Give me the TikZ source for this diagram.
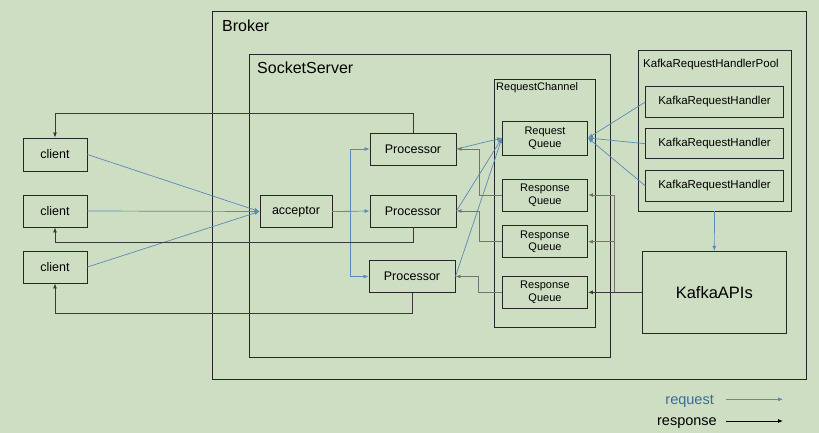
\documentclass[tikz,border=0pt]{standalone}
\usepackage{fontspec}
\setmainfont{Liberation Sans}
\usetikzlibrary{arrows.meta}
\definecolor{bg}{HTML}{CEDEC3}
\definecolor{reqc}{HTML}{5B89BA}
\definecolor{reqtext}{HTML}{3A6A9C}
\definecolor{respc}{HTML}{3A3A3A}
\begin{document}
\begin{tikzpicture}[x=1pt,y=-1pt,
  box/.style={draw=black!85, line width=0.95pt, inner sep=0pt, align=center},
  cont/.style={draw=black!85, line width=0.85pt},
  fs/.style={font=\fontsize{#1}{12.6}\selectfont},
  req/.style={draw=reqc, line width=0.7pt, -{Latex[length=5pt,width=4pt]}},
  resp/.style={draw=respc, line width=0.8pt, -{Latex[length=5pt,width=4pt]}},
  respg/.style={draw=black!55, line width=0.9pt, -{Latex[length=5pt,width=4pt]}}]
\fill[bg] (0,0) rectangle (819,433);
\useasboundingbox (0,0) rectangle (819,433);
% containers
\draw[cont] (212,11) rectangle (806,379);
\node[fs=16, anchor=base west, inner sep=0pt] (tbroker) at (222,31.5) {Broker};
\draw[cont] (249.5,54.5) rectangle (610,357);
\node[fs=16, anchor=base west, inner sep=0pt] (tsock) at (257,74) {SocketServer};
\draw[cont] (494.5,79) rectangle (595.5,327);
\node[fs=11, anchor=base west, inner sep=0pt] (tchan) at (496,90.5) {RequestChannel};
\draw[cont] (638.5,50) rectangle (791,211);
\node[fs=11.5, anchor=base west, inner sep=0pt] (tpool) at (643,67.3) {KafkaRequestHandlerPool};
% clients
\node[box, fs=12.5, minimum width=64pt, minimum height=33pt] (c1) at (55,154.5) {client};
\node[box, fs=12.5, minimum width=64pt, minimum height=32pt] (c2) at (55,211) {client};
\node[box, fs=12.5, minimum width=64pt, minimum height=32pt] (c3) at (55,267) {client};
% acceptor and processors
\node[box, fs=12.5, minimum width=72pt, minimum height=32pt] (acc) at (296,211.5) {acceptor};
\node[box, fs=12.5, minimum width=86pt, minimum height=32pt] (p1) at (413,149) {Processor};
\node[box, fs=12.5, minimum width=86pt, minimum height=32pt] (p2) at (413,211) {Processor};
\node[box, fs=12.5, minimum width=86pt, minimum height=32pt] (p3) at (412,276.5) {Processor};
% queues
\node[box, fs=11, minimum width=85pt, minimum height=34pt] (rq) at (545,138) {Request\\Queue};
\node[box, fs=11, minimum width=85pt, minimum height=32pt] (r1) at (545,195) {Response\\Queue};
\node[box, fs=11, minimum width=85pt, minimum height=32pt] (r2) at (545,241.7) {Response\\Queue};
\node[box, fs=11, minimum width=85pt, minimum height=32pt] (r3) at (545,292.3) {Response\\Queue};
% handlers
\node[box, fs=11.5, minimum width=137.5pt, minimum height=30.5pt] (h1) at (714.5,102) {KafkaRequestHandler};
\node[box, fs=11.5, minimum width=137.5pt, minimum height=30.5pt] (h2) at (714.5,143.7) {KafkaRequestHandler};
\node[box, fs=11.5, minimum width=137.5pt, minimum height=30.5pt] (h3) at (714.5,185.8) {KafkaRequestHandler};
\coordinate (poolbot) at (714.5,211);
\node[box, fs=16.5, minimum width=144.5pt, minimum height=82pt] (api) at (714.3,292.3) {KafkaAPIs};
% requests: clients to acceptor
\draw[req] (c1.east) -- (acc.west);
\draw[req] (c2.east) -- (acc.west);
\draw[req] (c3.east) -- (acc.west);
% acceptor to processors
\draw[req] (acc.east) -- (p2.west);
\draw[req] (acc.east) -- ++(18,0) |- (p1.west);
\draw[req] (acc.east) -- ++(18,0) |- (p3.west);
% processors to request queue
\draw[req] (p1.east) -- (rq.west);
\draw[req] (p2.east) -- (rq.west);
\draw[req] (p3.east) -- (rq.west);
% handlers to request queue
\draw[req] (h1.west) -- (rq.east);
\draw[req] (h2.west) -- (rq.east);
\draw[req] (h3.west) -- (rq.east);
% pool to apis
\draw[req] (poolbot) -- (api.north);
% responses: apis to response queues
\draw[resp] (api.west) -- (r3.east);
\draw[respg] (api.west) ++(-27,0) |- (r1.east);
\draw[respg] (api.west) ++(-27,0) |- (r2.east);
% response queues to processors
\draw[respg] (r1.west) -- ++(-23,0) |- (p1.east);
\draw[respg] (r2.west) -- ++(-23,0) |- (p2.east);
\draw[respg] (r3.west) -- ++(-24,0) |- (p3.east);
% processors to clients
\draw[resp] (p1.north) -- ++(0,-19) -| (c1.north);
\draw[resp] (p2.south) -- ++(0,15) -| (c2.south);
\draw[resp] (p3.south) -- ++(0,20) -| (c3.south);
% legend
\node[fs=14.5, text=reqtext, anchor=base east, inner sep=0pt] (lreq) at (714,404) {request};
\coordinate (lreqa) at (726,399.3);
\coordinate (lreqb) at (783,399.3);
\draw[req] (lreqa) -- (lreqb);
\node[fs=14.5, anchor=base east, inner sep=0pt] (lresp) at (717,425.7) {response};
\coordinate (lrespa) at (726,421);
\coordinate (lrespb) at (783,421);
\draw[resp, draw=black] (lrespa) -- (lrespb);
\end{tikzpicture}
\end{document}
